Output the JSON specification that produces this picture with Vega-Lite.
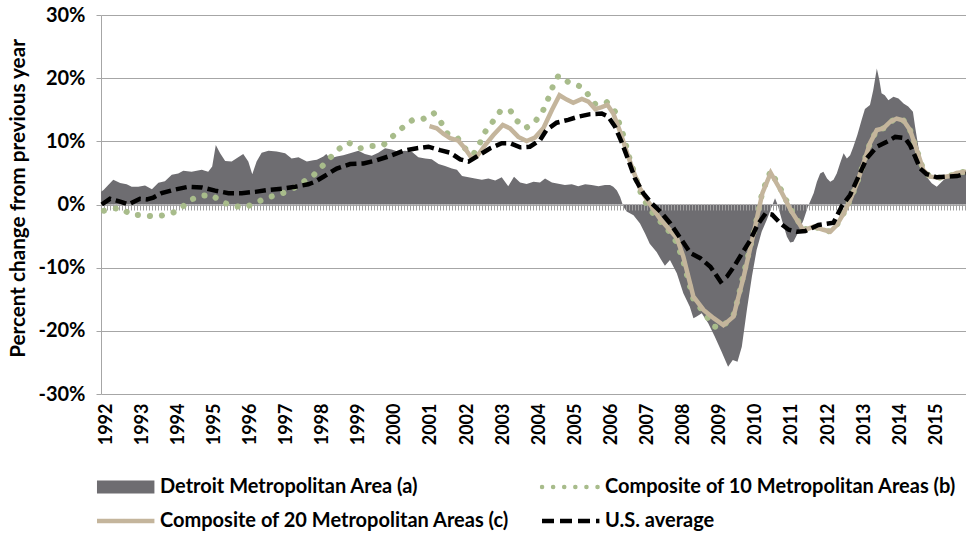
{
"$schema":"https://vega.github.io/schema/vega-lite/v6.json",
"width":865,"height":379,
"autosize":{"type":"none"},
"padding":{"left":101,"top":15,"right":0,"bottom":139},
"background":"white",
"config":{"view":{"stroke":null},"font":"Lato","axis":{"labelOverlap":false,"labelBound":false},"axisX":{"labelOverlap":false}},
"data":{"values":[
{"t":1991.86,"s":"a","v":2.0},{"t":1991.93,"s":"a","v":2.3},{"t":1992.2,"s":"a","v":3.9},{"t":1992.39,"s":"a","v":3.4},{"t":1992.57,"s":"a","v":3.2},{"t":1992.71,"s":"a","v":2.8},{"t":1992.89,"s":"a","v":2.8},{"t":1993.08,"s":"a","v":3.0},{"t":1993.27,"s":"a","v":2.4},{"t":1993.45,"s":"a","v":3.45},{"t":1993.63,"s":"a","v":3.7},{"t":1993.82,"s":"a","v":4.7},{"t":1994.0,"s":"a","v":4.9},{"t":1994.14,"s":"a","v":5.35},{"t":1994.37,"s":"a","v":5.2},{"t":1994.65,"s":"a","v":5.5},{"t":1994.83,"s":"a","v":5.2},{"t":1994.94,"s":"a","v":6.0},{"t":1995.04,"s":"a","v":9.4},{"t":1995.16,"s":"a","v":8.1},{"t":1995.3,"s":"a","v":6.9},{"t":1995.48,"s":"a","v":6.8},{"t":1995.66,"s":"a","v":7.5},{"t":1995.8,"s":"a","v":8.0},{"t":1995.94,"s":"a","v":6.8},{"t":1996.05,"s":"a","v":4.8},{"t":1996.17,"s":"a","v":6.8},{"t":1996.31,"s":"a","v":8.2},{"t":1996.5,"s":"a","v":8.5},{"t":1996.73,"s":"a","v":8.4},{"t":1996.96,"s":"a","v":8.1},{"t":1997.14,"s":"a","v":7.3},{"t":1997.33,"s":"a","v":7.5},{"t":1997.56,"s":"a","v":6.8},{"t":1997.74,"s":"a","v":7.0},{"t":1997.84,"s":"a","v":7.1},{"t":1998.02,"s":"a","v":7.6},{"t":1998.1,"s":"a","v":8.0},{"t":1998.2,"s":"a","v":7.3},{"t":1998.39,"s":"a","v":7.6},{"t":1998.57,"s":"a","v":7.8},{"t":1998.76,"s":"a","v":8.1},{"t":1998.99,"s":"a","v":8.5},{"t":1999.17,"s":"a","v":8.0},{"t":1999.36,"s":"a","v":7.7},{"t":1999.54,"s":"a","v":8.2},{"t":1999.73,"s":"a","v":8.9},{"t":1999.91,"s":"a","v":8.7},{"t":2000.1,"s":"a","v":8.35},{"t":2000.28,"s":"a","v":8.5},{"t":2000.47,"s":"a","v":8.35},{"t":2000.65,"s":"a","v":7.5},{"t":2000.84,"s":"a","v":7.3},{"t":2001.02,"s":"a","v":7.15},{"t":2001.21,"s":"a","v":6.4},{"t":2001.39,"s":"a","v":6.1},{"t":2001.58,"s":"a","v":5.7},{"t":2001.72,"s":"a","v":5.5},{"t":2001.86,"s":"a","v":4.5},{"t":2002.04,"s":"a","v":4.3},{"t":2002.22,"s":"a","v":4.1},{"t":2002.41,"s":"a","v":3.9},{"t":2002.59,"s":"a","v":4.1},{"t":2002.78,"s":"a","v":3.8},{"t":2002.96,"s":"a","v":4.3},{"t":2003.14,"s":"a","v":2.9},{"t":2003.3,"s":"a","v":4.4},{"t":2003.47,"s":"a","v":3.5},{"t":2003.65,"s":"a","v":3.25},{"t":2003.84,"s":"a","v":3.6},{"t":2004.02,"s":"a","v":3.5},{"t":2004.16,"s":"a","v":4.1},{"t":2004.35,"s":"a","v":3.5},{"t":2004.53,"s":"a","v":3.3},{"t":2004.71,"s":"a","v":3.1},{"t":2004.9,"s":"a","v":3.2},{"t":2005.08,"s":"a","v":2.9},{"t":2005.27,"s":"a","v":3.2},{"t":2005.45,"s":"a","v":3.1},{"t":2005.64,"s":"a","v":2.9},{"t":2005.82,"s":"a","v":3.1},{"t":2005.96,"s":"a","v":3.1},{"t":2006.05,"s":"a","v":2.8},{"t":2006.15,"s":"a","v":2.2},{"t":2006.24,"s":"a","v":1.2},{"t":2006.33,"s":"a","v":-0.35},{"t":2006.42,"s":"a","v":-1.1},{"t":2006.61,"s":"a","v":-1.7},{"t":2006.79,"s":"a","v":-3.0},{"t":2006.93,"s":"a","v":-4.6},{"t":2007.06,"s":"a","v":-6.2},{"t":2007.25,"s":"a","v":-7.5},{"t":2007.35,"s":"a","v":-8.5},{"t":2007.48,"s":"a","v":-9.7},{"t":2007.62,"s":"a","v":-8.8},{"t":2007.81,"s":"a","v":-10.9},{"t":2007.99,"s":"a","v":-14.05},{"t":2008.17,"s":"a","v":-16.2},{"t":2008.27,"s":"a","v":-18.0},{"t":2008.36,"s":"a","v":-17.75},{"t":2008.5,"s":"a","v":-17.2},{"t":2008.68,"s":"a","v":-18.8},{"t":2008.86,"s":"a","v":-20.9},{"t":2009.05,"s":"a","v":-23.3},{"t":2009.23,"s":"a","v":-25.7},{"t":2009.36,"s":"a","v":-24.6},{"t":2009.49,"s":"a","v":-24.9},{"t":2009.61,"s":"a","v":-22.5},{"t":2009.75,"s":"a","v":-16.7},{"t":2009.89,"s":"a","v":-11.4},{"t":2010.02,"s":"a","v":-7.2},{"t":2010.16,"s":"a","v":-4.3},{"t":2010.3,"s":"a","v":-2.45},{"t":2010.44,"s":"a","v":-0.35},{"t":2010.53,"s":"a","v":1.0},{"t":2010.6,"s":"a","v":0.0},{"t":2010.72,"s":"a","v":-2.45},{"t":2010.86,"s":"a","v":-5.1},{"t":2010.95,"s":"a","v":-6.0},{"t":2011.04,"s":"a","v":-5.9},{"t":2011.18,"s":"a","v":-4.3},{"t":2011.32,"s":"a","v":-2.45},{"t":2011.44,"s":"a","v":-0.35},{"t":2011.6,"s":"a","v":1.8},{"t":2011.69,"s":"a","v":3.6},{"t":2011.78,"s":"a","v":4.9},{"t":2011.87,"s":"a","v":5.2},{"t":2011.97,"s":"a","v":4.1},{"t":2012.06,"s":"a","v":3.6},{"t":2012.15,"s":"a","v":3.9},{"t":2012.24,"s":"a","v":4.9},{"t":2012.33,"s":"a","v":6.5},{"t":2012.43,"s":"a","v":8.1},{"t":2012.52,"s":"a","v":7.3},{"t":2012.61,"s":"a","v":7.8},{"t":2012.7,"s":"a","v":9.15},{"t":2012.81,"s":"a","v":11.0},{"t":2012.93,"s":"a","v":13.4},{"t":2013.02,"s":"a","v":15.1},{"t":2013.16,"s":"a","v":15.75},{"t":2013.25,"s":"a","v":18.1},{"t":2013.35,"s":"a","v":21.55},{"t":2013.42,"s":"a","v":19.7},{"t":2013.48,"s":"a","v":17.6},{"t":2013.57,"s":"a","v":17.3},{"t":2013.67,"s":"a","v":16.5},{"t":2013.81,"s":"a","v":17.05},{"t":2013.95,"s":"a","v":16.8},{"t":2014.09,"s":"a","v":16.0},{"t":2014.22,"s":"a","v":15.5},{"t":2014.35,"s":"a","v":14.7},{"t":2014.41,"s":"a","v":12.3},{"t":2014.5,"s":"a","v":9.15},{"t":2014.6,"s":"a","v":6.5},{"t":2014.73,"s":"a","v":4.4},{"t":2014.87,"s":"a","v":3.35},{"t":2015.01,"s":"a","v":2.8},{"t":2015.15,"s":"a","v":3.6},{"t":2015.29,"s":"a","v":4.4},{"t":2015.47,"s":"a","v":4.9},{"t":2015.66,"s":"a","v":5.2},{"t":2015.82,"s":"a","v":5.45},

{"t":1991.94,"s":"b","v":-1.0},{"t":1992.39,"s":"b","v":-0.5},{"t":1992.69,"s":"b","v":-1.6},{"t":1993.03,"s":"b","v":-1.7},{"t":1993.37,"s":"b","v":-1.9},{"t":1993.7,"s":"b","v":-1.6},{"t":1994.03,"s":"b","v":-0.9},{"t":1994.28,"s":"b","v":0.55},{"t":1994.58,"s":"b","v":1.35},{"t":1994.92,"s":"b","v":1.55},{"t":1995.19,"s":"b","v":0.45},{"t":1995.52,"s":"b","v":-0.25},{"t":1995.86,"s":"b","v":-0.45},{"t":1996.17,"s":"b","v":0.35},{"t":1996.47,"s":"b","v":1.1},{"t":1996.8,"s":"b","v":1.6},{"t":1997.12,"s":"b","v":2.3},{"t":1997.42,"s":"b","v":3.45},{"t":1997.71,"s":"b","v":4.4},{"t":1997.96,"s":"b","v":5.9},{"t":1998.19,"s":"b","v":7.3},{"t":1998.43,"s":"b","v":8.7},{"t":1998.71,"s":"b","v":9.8},{"t":1999.04,"s":"b","v":8.9},{"t":1999.34,"s":"b","v":9.25},{"t":1999.68,"s":"b","v":9.4},{"t":1999.94,"s":"b","v":10.8},{"t":2000.2,"s":"b","v":12.1},{"t":2000.47,"s":"b","v":13.3},{"t":2000.77,"s":"b","v":13.5},{"t":2001.07,"s":"b","v":14.5},{"t":2001.28,"s":"b","v":13.0},{"t":2001.44,"s":"b","v":11.3},{"t":2001.74,"s":"b","v":10.5},{"t":2001.94,"s":"b","v":8.9},{"t":2002.17,"s":"b","v":7.9},{"t":2002.36,"s":"b","v":9.8},{"t":2002.5,"s":"b","v":11.5},{"t":2002.71,"s":"b","v":13.1},{"t":2002.91,"s":"b","v":14.7},{"t":2003.19,"s":"b","v":14.95},{"t":2003.37,"s":"b","v":13.3},{"t":2003.63,"s":"b","v":12.1},{"t":2003.91,"s":"b","v":13.3},{"t":2004.11,"s":"b","v":14.95},{"t":2004.25,"s":"b","v":16.8},{"t":2004.37,"s":"b","v":18.6},{"t":2004.53,"s":"b","v":20.4},{"t":2004.8,"s":"b","v":19.4},{"t":2005.11,"s":"b","v":18.75},{"t":2005.34,"s":"b","v":17.5},{"t":2005.55,"s":"b","v":15.9},{"t":2005.87,"s":"b","v":16.2},{"t":2006.1,"s":"b","v":14.7},{"t":2006.3,"s":"b","v":11.5},{"t":2006.5,"s":"b","v":7.3},{"t":2006.7,"s":"b","v":3.8},{"t":2006.84,"s":"b","v":1.35},{"t":2007.02,"s":"b","v":-0.35},{"t":2007.21,"s":"b","v":-1.9},{"t":2007.5,"s":"b","v":-3.5},{"t":2007.81,"s":"b","v":-6.0},{"t":2007.99,"s":"b","v":-9.0},{"t":2008.27,"s":"b","v":-15.0},{"t":2008.55,"s":"b","v":-17.0},{"t":2008.83,"s":"b","v":-19.3},{"t":2009.0,"s":"b","v":-19.5},{"t":2009.1,"s":"b","v":-19.2},{"t":2009.38,"s":"b","v":-17.5},{"t":2009.5,"s":"b","v":-15.0},{"t":2009.66,"s":"b","v":-11.0},{"t":2009.94,"s":"b","v":-4.5},{"t":2010.18,"s":"b","v":2.0},{"t":2010.41,"s":"b","v":5.3},{"t":2010.68,"s":"b","v":2.5},{"t":2010.96,"s":"b","v":-0.7},{"t":2011.32,"s":"b","v":-4.0},{"t":2011.6,"s":"b","v":-3.5},{"t":2011.87,"s":"b","v":-4.0},{"t":2012.06,"s":"b","v":-4.3},{"t":2012.24,"s":"b","v":-3.25},{"t":2012.43,"s":"b","v":-1.4},{"t":2012.61,"s":"b","v":0.7},{"t":2012.8,"s":"b","v":3.35},{"t":2012.98,"s":"b","v":6.5},{"t":2013.16,"s":"b","v":9.7},{"t":2013.35,"s":"b","v":11.8},{"t":2013.53,"s":"b","v":12.05},{"t":2013.72,"s":"b","v":13.1},{"t":2013.9,"s":"b","v":13.6},{"t":2014.09,"s":"b","v":13.3},{"t":2014.27,"s":"b","v":11.8},{"t":2014.46,"s":"b","v":8.6},{"t":2014.64,"s":"b","v":5.45},{"t":2014.82,"s":"b","v":4.4},{"t":2015.1,"s":"b","v":4.25},{"t":2015.37,"s":"b","v":4.5},{"t":2015.56,"s":"b","v":5.0},{"t":2015.82,"s":"b","v":5.2},

{"t":2000.96,"s":"c","v":12.4},{"t":2001.16,"s":"c","v":12.05},{"t":2001.34,"s":"c","v":11.2},{"t":2001.53,"s":"c","v":10.5},{"t":2001.76,"s":"c","v":10.1},{"t":2001.94,"s":"c","v":8.9},{"t":2002.13,"s":"c","v":7.3},{"t":2002.27,"s":"c","v":7.6},{"t":2002.5,"s":"c","v":9.4},{"t":2002.73,"s":"c","v":11.0},{"t":2002.99,"s":"c","v":12.6},{"t":2003.19,"s":"c","v":12.05},{"t":2003.42,"s":"c","v":10.7},{"t":2003.65,"s":"c","v":10.05},{"t":2003.88,"s":"c","v":10.6},{"t":2004.11,"s":"c","v":12.05},{"t":2004.35,"s":"c","v":14.95},{"t":2004.56,"s":"c","v":17.3},{"t":2004.76,"s":"c","v":16.6},{"t":2004.94,"s":"c","v":16.1},{"t":2005.18,"s":"c","v":16.7},{"t":2005.36,"s":"c","v":16.3},{"t":2005.55,"s":"c","v":15.1},{"t":2005.73,"s":"c","v":15.4},{"t":2005.89,"s":"c","v":15.75},{"t":2006.05,"s":"c","v":14.4},{"t":2006.24,"s":"c","v":11.5},{"t":2006.42,"s":"c","v":8.35},{"t":2006.61,"s":"c","v":5.2},{"t":2006.79,"s":"c","v":2.55},{"t":2007.02,"s":"c","v":0.45},{"t":2007.35,"s":"c","v":-2.3},{"t":2007.81,"s":"c","v":-5.3},{"t":2007.99,"s":"c","v":-8.25},{"t":2008.27,"s":"c","v":-14.6},{"t":2008.55,"s":"c","v":-16.7},{"t":2008.83,"s":"c","v":-18.0},{"t":2009.1,"s":"c","v":-19.1},{"t":2009.38,"s":"c","v":-17.75},{"t":2009.5,"s":"c","v":-15.0},{"t":2009.66,"s":"c","v":-11.5},{"t":2009.94,"s":"c","v":-4.5},{"t":2010.18,"s":"c","v":1.8},{"t":2010.41,"s":"c","v":5.0},{"t":2010.68,"s":"c","v":2.3},{"t":2010.96,"s":"c","v":-0.85},{"t":2011.32,"s":"c","v":-4.1},{"t":2011.6,"s":"c","v":-3.5},{"t":2011.87,"s":"c","v":-4.0},{"t":2012.06,"s":"c","v":-4.3},{"t":2012.24,"s":"c","v":-3.25},{"t":2012.43,"s":"c","v":-1.4},{"t":2012.61,"s":"c","v":0.7},{"t":2012.8,"s":"c","v":3.35},{"t":2012.98,"s":"c","v":6.5},{"t":2013.16,"s":"c","v":9.7},{"t":2013.35,"s":"c","v":11.8},{"t":2013.53,"s":"c","v":12.05},{"t":2013.72,"s":"c","v":13.1},{"t":2013.9,"s":"c","v":13.6},{"t":2014.09,"s":"c","v":13.3},{"t":2014.27,"s":"c","v":11.8},{"t":2014.46,"s":"c","v":8.6},{"t":2014.64,"s":"c","v":5.45},{"t":2014.82,"s":"c","v":4.4},{"t":2015.1,"s":"c","v":4.25},{"t":2015.37,"s":"c","v":4.5},{"t":2015.56,"s":"c","v":5.0},{"t":2015.82,"s":"c","v":5.2},

{"t":1991.88,"s":"d","v":0.0},{"t":1992.11,"s":"d","v":0.9},{"t":1992.39,"s":"d","v":0.45},{"t":1992.62,"s":"d","v":0.0},{"t":1992.94,"s":"d","v":0.9},{"t":1993.13,"s":"d","v":0.8},{"t":1993.31,"s":"d","v":1.1},{"t":1993.54,"s":"d","v":1.8},{"t":1993.86,"s":"d","v":2.3},{"t":1994.28,"s":"d","v":2.8},{"t":1994.65,"s":"d","v":2.7},{"t":1995.02,"s":"d","v":2.2},{"t":1995.39,"s":"d","v":1.8},{"t":1995.76,"s":"d","v":1.8},{"t":1996.13,"s":"d","v":2.0},{"t":1996.5,"s":"d","v":2.3},{"t":1996.87,"s":"d","v":2.5},{"t":1997.24,"s":"d","v":2.8},{"t":1997.6,"s":"d","v":3.2},{"t":1997.79,"s":"d","v":3.6},{"t":1998.02,"s":"d","v":4.4},{"t":1998.39,"s":"d","v":5.7},{"t":1998.76,"s":"d","v":6.4},{"t":1999.13,"s":"d","v":6.5},{"t":1999.5,"s":"d","v":7.0},{"t":1999.87,"s":"d","v":7.7},{"t":2000.24,"s":"d","v":8.5},{"t":2000.61,"s":"d","v":8.9},{"t":2000.93,"s":"d","v":9.15},{"t":2001.25,"s":"d","v":8.6},{"t":2001.53,"s":"d","v":8.2},{"t":2001.81,"s":"d","v":7.15},{"t":2002.04,"s":"d","v":6.8},{"t":2002.27,"s":"d","v":7.6},{"t":2002.64,"s":"d","v":8.9},{"t":2002.96,"s":"d","v":9.7},{"t":2003.19,"s":"d","v":9.7},{"t":2003.47,"s":"d","v":9.05},{"t":2003.74,"s":"d","v":9.15},{"t":2004.02,"s":"d","v":10.2},{"t":2004.2,"s":"d","v":11.8},{"t":2004.48,"s":"d","v":12.95},{"t":2004.8,"s":"d","v":13.4},{"t":2005.08,"s":"d","v":13.9},{"t":2005.41,"s":"d","v":14.3},{"t":2005.73,"s":"d","v":14.4},{"t":2005.91,"s":"d","v":13.9},{"t":2006.1,"s":"d","v":12.3},{"t":2006.28,"s":"d","v":9.9},{"t":2006.47,"s":"d","v":7.0},{"t":2006.65,"s":"d","v":4.15},{"t":2006.88,"s":"d","v":1.8},{"t":2007.11,"s":"d","v":0.2},{"t":2007.35,"s":"d","v":-1.1},{"t":2007.63,"s":"d","v":-3.0},{"t":2007.91,"s":"d","v":-5.35},{"t":2008.19,"s":"d","v":-7.7},{"t":2008.46,"s":"d","v":-8.5},{"t":2008.74,"s":"d","v":-9.85},{"t":2009.02,"s":"d","v":-12.2},{"t":2009.2,"s":"d","v":-11.4},{"t":2009.39,"s":"d","v":-9.85},{"t":2009.62,"s":"d","v":-7.7},{"t":2009.85,"s":"d","v":-5.6},{"t":2010.04,"s":"d","v":-3.25},{"t":2010.27,"s":"d","v":-1.4},{"t":2010.45,"s":"d","v":-1.6},{"t":2010.68,"s":"d","v":-3.0},{"t":2010.91,"s":"d","v":-4.0},{"t":2011.14,"s":"d","v":-4.3},{"t":2011.37,"s":"d","v":-4.2},{"t":2011.73,"s":"d","v":-3.25},{"t":2012.15,"s":"d","v":-2.9},{"t":2012.38,"s":"d","v":-0.25},{"t":2012.61,"s":"d","v":1.5},{"t":2012.84,"s":"d","v":4.4},{"t":2013.07,"s":"d","v":7.3},{"t":2013.35,"s":"d","v":9.15},{"t":2013.63,"s":"d","v":9.95},{"t":2013.86,"s":"d","v":10.7},{"t":2014.13,"s":"d","v":10.5},{"t":2014.27,"s":"d","v":9.4},{"t":2014.41,"s":"d","v":7.6},{"t":2014.55,"s":"d","v":5.7},{"t":2014.73,"s":"d","v":4.8},{"t":2015.01,"s":"d","v":4.3},{"t":2015.29,"s":"d","v":4.4},{"t":2015.57,"s":"d","v":4.5},{"t":2015.82,"s":"d","v":4.9},

{"t":1991.86,"s":"z","v":0},{"t":2015.82,"s":"z","v":0}
]},
"encoding":{
  "x":{"field":"t","type":"quantitative","scale":{"domain":[1991.86,2015.82],"nice":false,"zero":false},
   "axis":{"values":[1992,1993,1994,1995,1996,1997,1998,1999,2000,2001,2002,2003,2004,2005,2006,2007,2008,2009,2010,2011,2012,2013,2014,2015],"tickCount":24,"format":"d","labelAngle":270,"labelAlign":"right","labelBaseline":"middle","labelFont":"Lato","labelFontWeight":"bold","labelFontSize":18,"labelColor":"#000000","labelPadding":9,"ticks":false,"domain":false,"grid":false,"title":null,"labelOverlap":false,"labelFlush":false,"labelBound":false}},
  "y":{"field":"v","type":"quantitative","scale":{"domain":[-30,30],"nice":false,"zero":false},
   "axis":{"values":[-30,-20,-10,0,10,20,30],"labelExpr":"datum.value + '%'","labelFont":"Lato","labelFontWeight":"bold","labelFontSize":20,"labelColor":"#000000","labelPadding":11,"tickSize":5,"tickColor":"#a6a6a6","domainColor":"#a6a6a6","gridColor":"#a6a6a6","gridWidth":1,"grid":true,
   "title":"Percent change from previous year","titleFont":"Lato","titleFontWeight":"bold","titleFontSize":20.7,"titleColor":"#000000","titleAngle":270,"titleAlign":"center","titleBaseline":"middle","titleX":-83,"titleY":183}}
},
"layer":[
{"transform":[{"filter":"datum.s === 'a'"}],
 "mark":{"type":"area","interpolate":"linear"},
 "encoding":{
  "color":{"field":"s","type":"nominal","scale":{"domain":["a","b","c","d"],"range":["#6e6d71","#a8bc8b","#c4b59c","#000000"]},
   "legend":{"orient":"none","direction":"horizontal","legendX":-6.3,"legendY":461,"padding":0,"columns":2,"columnPadding":30,"rowPadding":12,"clipHeight":22,"symbolType":"stroke","symbolSize":3300,"symbolStrokeWidth":4.5,"symbolOffset":0,"labelFont":"Lato","labelFontWeight":"bold","labelFontSize":20,"labelColor":"#000000","labelOffset":3.3,"labelLimit":0,"title":null,
    "labelExpr":"datum.value === 'a' ? 'Detroit Metropolitan Area (a)' : datum.value === 'b' ? 'Composite of 10 Metropolitan Areas (b)' : datum.value === 'c' ? 'Composite of 20 Metropolitan Areas (c)' : 'U.S. average'",
    "encode":{"symbols":{"update":{
      "shape":{"signal":"datum.value === 'a' ? 'M-1,-0.226H1V0.226H-1Z' : 'stroke'"},
      "fill":{"scale":"color","field":"value"},
      "fillOpacity":{"value":1},
      "stroke":{"scale":"color","field":"value"},
      "strokeOpacity":{"signal":"datum.value === 'a' ? 0 : 1"},
      "strokeCap":{"signal":"datum.value === 'b' ? 'round' : 'butt'"},
      "strokeDash":{"signal":"datum.value === 'b' ? [0.1, 11] : datum.value === 'd' ? [12, 6] : [1, 0]"},
      "opacity":{"value":1}}}}}}
 }},
{"transform":[{"filter":"datum.s === 'z'"}],
 "mark":{"type":"line","color":"#a0a0a0","strokeWidth":6,"strokeDash":[1,2],"yOffset":3},
 "encoding":{}},
{"transform":[{"filter":"datum.s === 'b'"}],
 "mark":{"type":"line","strokeWidth":6,"strokeCap":"round","strokeDash":[0.1,12]},
 "encoding":{"color":{"field":"s","type":"nominal"}}},
{"transform":[{"filter":"datum.s === 'c'"}],
 "mark":{"type":"line","strokeWidth":4.5},
 "encoding":{"color":{"field":"s","type":"nominal"}}},
{"transform":[{"filter":"datum.s === 'd'"}],
 "mark":{"type":"line","strokeWidth":4.5,"strokeDash":[11,5]},
 "encoding":{"color":{"field":"s","type":"nominal"}}}
]
}
